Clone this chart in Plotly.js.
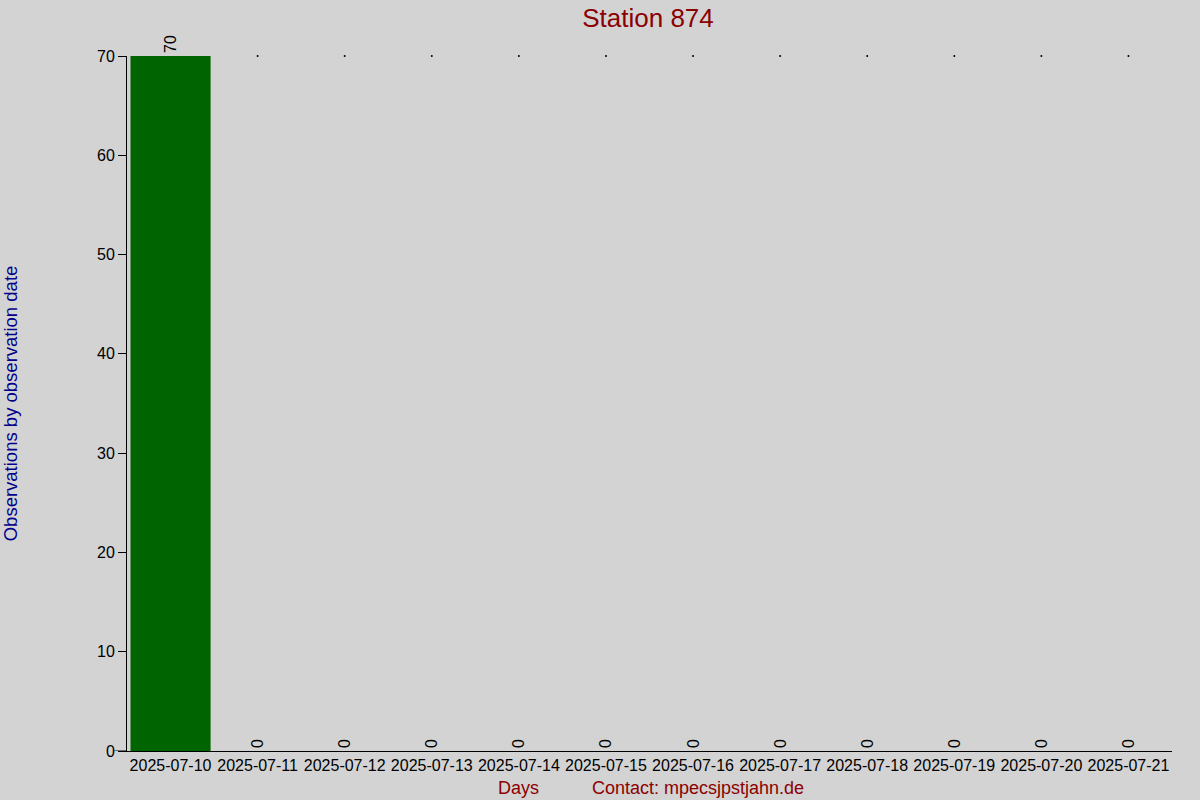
<!DOCTYPE html>
<html>
<head>
<meta charset="utf-8">
<script src="https://cdn.plot.ly/plotly-3.0.1.min.js"></script>
<style>
body { margin:0; background:#d3d3d3; }
#chart { width:1200px; height:800px; }
</style>
</head>
<body>
<div id="chart"></div>
<script>
var days = ["2025-07-10","2025-07-11","2025-07-12","2025-07-13","2025-07-14","2025-07-15",
            "2025-07-16","2025-07-17","2025-07-18","2025-07-19","2025-07-20","2025-07-21"];
var counts = [70,0,0,0,0,0,0,0,0,0,0,0];

var topVal = Math.max.apply(null, counts);
// small dots jpgraph leaves at the top for empty days
var dotX = [], dotY = [];
for (var i = 0; i < days.length; i++) {
    if (counts[i] == 0) { dotX.push(days[i]); dotY.push(topVal); }
}

var data = [
  {type:'bar', x:days, y:counts, width:0.92,
   marker:{color:'#006400', line:{width:0}},
   text:counts.map(function(v){ return v + '\u00a0'; }), textposition:'outside', textangle:-90,
   textfont:{family:'Liberation Sans, Arial', size:16, color:'#000'},
   cliponaxis:false, hoverinfo:'x+y'},
  {type:'scatter', mode:'markers', x:dotX, y:dotY,
   marker:{size:2, color:'#000'}, hoverinfo:'skip', cliponaxis:false}
];

var layout = {
  width:1200, height:800,
  paper_bgcolor:'#d3d3d3', plot_bgcolor:'#d3d3d3',
  margin:{l:127, r:28, t:56, b:49},
  showlegend:false,
  font:{family:'Liberation Sans, Arial', size:16, color:'#000'},
  title:{text:'Station 874', x:0.54, xanchor:'center', y:0.978, yanchor:'middle',
         font:{size:26, color:'#8b0000'}},
  xaxis:{type:'category', range:[-0.5, 11.5], showgrid:false, zeroline:false,
         showline:true, linecolor:'#000', linewidth:1, ticks:'', tickangle:0,
         tickfont:{size:16}, fixedrange:true},
  yaxis:{range:[0,70], dtick:10, showgrid:false, zeroline:false,
         showline:true, linecolor:'#000', linewidth:1, ticks:'outside', ticklen:8,
         tickcolor:'#000', tickfont:{size:16},
         title:{text:'Observations by observation date', standoff:76,
                font:{size:18.5, color:'#00008b'}}},
  shapes:[{type:'line', xref:'paper', yref:'y', x0:-0.012, x1:0, y0:0, y1:0,
           line:{color:'#000', width:1}}],
  annotations:[
    {text:'Days', xref:'paper', yref:'paper', x:0.375, y:-0.053, xanchor:'center', yanchor:'middle',
     showarrow:false, font:{size:18, color:'#8b0000'}},
    {text:'Contact: mpecsjpstjahn.de', xref:'paper', yref:'paper', x:0.443, y:-0.053,
     xanchor:'left', yanchor:'middle', showarrow:false, font:{size:18, color:'#8b0000'}}
  ]
};

Plotly.newPlot('chart', data, layout, {displayModeBar:false, staticPlot:true});
</script>
</body>
</html>
